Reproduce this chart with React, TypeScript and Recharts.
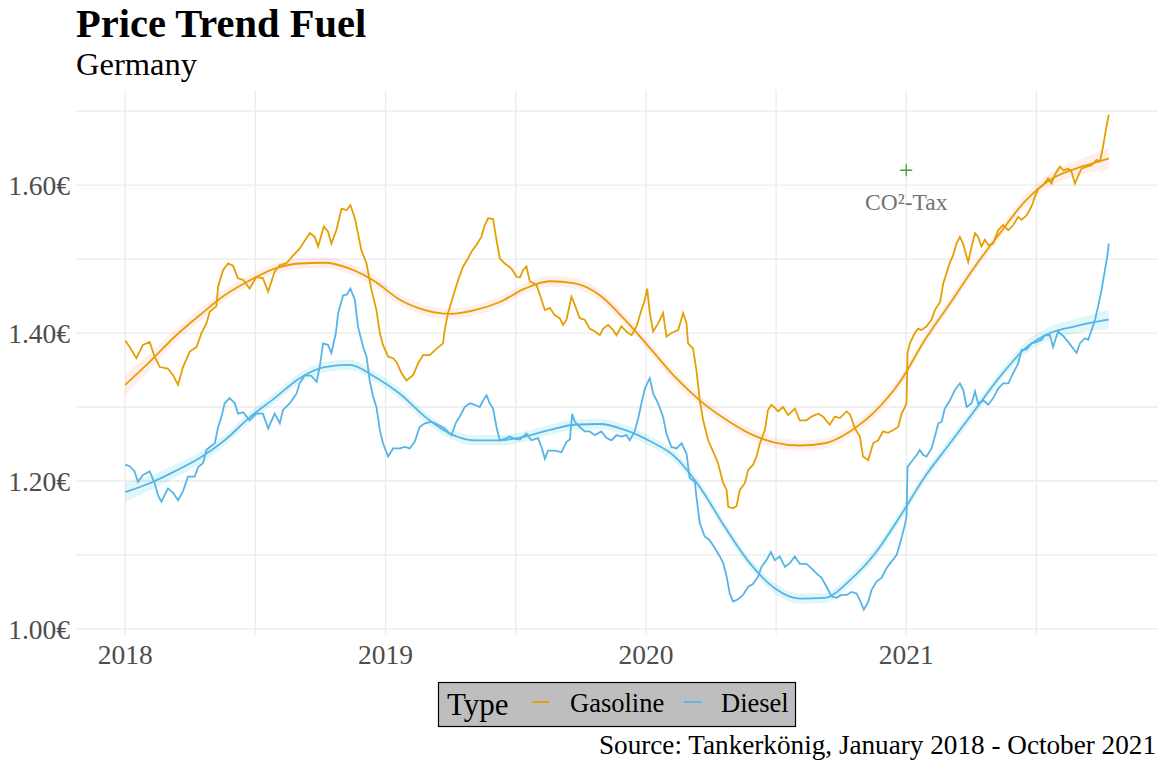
import { ComposedChart, Line, Area, XAxis, YAxis, CartesianGrid, ReferenceDot } from "recharts";

const W = 1166;
const H = 767;
const FONT = '"Liberation Serif", "Times New Roman", serif';
const GAS = "#E69F00";
const DSL = "#56B4E9";

const yearTicks = [2018, 2018.5, 2019, 2019.5, 2020, 2020.5, 2021, 2021.5];
const priceTicks = [1.0, 1.1, 1.2, 1.3, 1.4, 1.5, 1.6, 1.7];

// [decimal year, price in €]
const gasolineDaily: [number, number][] = [
  [2018.000,1.390],[2018.017,1.381],[2018.043,1.366],[2018.068,1.384],[2018.094,1.388],[2018.113,1.368],[2018.133,1.354],[2018.164,1.352],[2018.184,1.343],[2018.203,1.330],[2018.222,1.354],[2018.248,1.375],[2018.274,1.381],[2018.293,1.400],[2018.312,1.413],[2018.325,1.429],[2018.350,1.436],[2018.357,1.463],[2018.376,1.485],[2018.395,1.494],[2018.414,1.491],[2018.433,1.474],[2018.453,1.472],[2018.478,1.460],[2018.504,1.476],[2018.529,1.474],[2018.549,1.456],[2018.574,1.483],[2018.594,1.492],[2018.619,1.494],[2018.645,1.505],[2018.670,1.514],[2018.690,1.525],[2018.709,1.535],[2018.728,1.530],[2018.741,1.517],[2018.763,1.544],[2018.779,1.537],[2018.792,1.521],[2018.811,1.539],[2018.831,1.568],[2018.850,1.566],[2018.865,1.573],[2018.882,1.555],[2018.894,1.535],[2018.907,1.512],[2018.927,1.494],[2018.946,1.458],[2018.965,1.431],[2018.978,1.400],[2018.990,1.384],[2019.010,1.368],[2019.029,1.366],[2019.042,1.361],[2019.061,1.346],[2019.080,1.336],[2019.106,1.343],[2019.125,1.359],[2019.144,1.370],[2019.170,1.370],[2019.196,1.379],[2019.221,1.386],[2019.227,1.404],[2019.240,1.427],[2019.259,1.449],[2019.279,1.472],[2019.298,1.490],[2019.317,1.501],[2019.330,1.510],[2019.349,1.519],[2019.368,1.530],[2019.381,1.546],[2019.394,1.555],[2019.413,1.554],[2019.426,1.526],[2019.439,1.501],[2019.458,1.494],[2019.484,1.487],[2019.503,1.476],[2019.516,1.475],[2019.528,1.485],[2019.541,1.490],[2019.554,1.470],[2019.580,1.465],[2019.599,1.445],[2019.612,1.431],[2019.631,1.434],[2019.650,1.424],[2019.669,1.420],[2019.682,1.411],[2019.695,1.418],[2019.714,1.449],[2019.727,1.438],[2019.746,1.420],[2019.765,1.418],[2019.784,1.406],[2019.804,1.402],[2019.823,1.397],[2019.836,1.406],[2019.855,1.411],[2019.874,1.404],[2019.887,1.397],[2019.906,1.409],[2019.925,1.402],[2019.945,1.397],[2019.964,1.409],[2019.983,1.431],[2019.996,1.445],[2020.005,1.460],[2020.015,1.427],[2020.028,1.402],[2020.047,1.413],[2020.066,1.427],[2020.079,1.395],[2020.098,1.400],[2020.124,1.404],[2020.143,1.427],[2020.156,1.413],[2020.162,1.386],[2020.181,1.379],[2020.194,1.350],[2020.207,1.309],[2020.220,1.282],[2020.239,1.255],[2020.258,1.240],[2020.277,1.224],[2020.297,1.197],[2020.310,1.188],[2020.316,1.165],[2020.335,1.163],[2020.348,1.166],[2020.361,1.188],[2020.380,1.197],[2020.393,1.215],[2020.412,1.222],[2020.425,1.233],[2020.438,1.251],[2020.457,1.269],[2020.469,1.296],[2020.482,1.303],[2020.495,1.299],[2020.508,1.294],[2020.527,1.300],[2020.546,1.289],[2020.572,1.298],[2020.591,1.282],[2020.617,1.282],[2020.636,1.287],[2020.662,1.291],[2020.681,1.287],[2020.706,1.276],[2020.726,1.287],[2020.745,1.285],[2020.771,1.294],[2020.784,1.290],[2020.803,1.271],[2020.822,1.260],[2020.834,1.233],[2020.854,1.228],[2020.873,1.251],[2020.892,1.255],[2020.911,1.267],[2020.930,1.265],[2020.950,1.269],[2020.969,1.273],[2020.982,1.291],[2020.995,1.300],[2021.001,1.305],[2021.005,1.373],[2021.014,1.386],[2021.033,1.400],[2021.046,1.406],[2021.059,1.404],[2021.078,1.409],[2021.097,1.418],[2021.110,1.431],[2021.130,1.442],[2021.142,1.467],[2021.155,1.481],[2021.168,1.496],[2021.180,1.505],[2021.193,1.521],[2021.206,1.530],[2021.219,1.520],[2021.232,1.503],[2021.238,1.496],[2021.251,1.517],[2021.264,1.535],[2021.276,1.530],[2021.289,1.517],[2021.302,1.526],[2021.315,1.519],[2021.334,1.521],[2021.353,1.539],[2021.372,1.546],[2021.392,1.539],[2021.411,1.546],[2021.430,1.557],[2021.443,1.553],[2021.462,1.559],[2021.481,1.571],[2021.494,1.584],[2021.507,1.595],[2021.526,1.600],[2021.545,1.609],[2021.558,1.602],[2021.571,1.614],[2021.590,1.625],[2021.603,1.620],[2021.622,1.622],[2021.635,1.618],[2021.648,1.602],[2021.660,1.612],[2021.673,1.622],[2021.693,1.625],[2021.712,1.627],[2021.731,1.634],[2021.744,1.632],[2021.756,1.652],[2021.769,1.679],[2021.778,1.695],
];

const dieselDaily: [number, number][] = [
  [2018.000,1.222],[2018.017,1.220],[2018.036,1.213],[2018.049,1.199],[2018.068,1.208],[2018.094,1.213],[2018.113,1.197],[2018.126,1.181],[2018.139,1.172],[2018.164,1.190],[2018.184,1.184],[2018.203,1.174],[2018.222,1.186],[2018.241,1.206],[2018.267,1.206],[2018.280,1.219],[2018.299,1.224],[2018.312,1.242],[2018.325,1.246],[2018.344,1.251],[2018.357,1.273],[2018.370,1.287],[2018.382,1.305],[2018.401,1.312],[2018.421,1.305],[2018.433,1.291],[2018.453,1.293],[2018.478,1.282],[2018.504,1.291],[2018.529,1.291],[2018.549,1.271],[2018.574,1.291],[2018.594,1.278],[2018.606,1.296],[2018.632,1.305],[2018.658,1.318],[2018.670,1.332],[2018.690,1.343],[2018.715,1.342],[2018.735,1.334],[2018.747,1.354],[2018.760,1.386],[2018.779,1.384],[2018.792,1.373],[2018.809,1.400],[2018.818,1.427],[2018.837,1.451],[2018.852,1.452],[2018.865,1.460],[2018.882,1.445],[2018.894,1.409],[2018.914,1.381],[2018.927,1.368],[2018.939,1.336],[2018.952,1.314],[2018.965,1.300],[2018.978,1.269],[2018.990,1.251],[2019.010,1.233],[2019.029,1.244],[2019.055,1.244],[2019.074,1.246],[2019.093,1.244],[2019.112,1.253],[2019.131,1.273],[2019.151,1.278],[2019.176,1.280],[2019.202,1.276],[2019.227,1.271],[2019.253,1.262],[2019.272,1.280],[2019.285,1.287],[2019.304,1.300],[2019.324,1.305],[2019.343,1.303],[2019.362,1.300],[2019.375,1.309],[2019.388,1.316],[2019.400,1.305],[2019.413,1.298],[2019.426,1.273],[2019.439,1.255],[2019.458,1.257],[2019.477,1.260],[2019.497,1.257],[2019.516,1.256],[2019.541,1.264],[2019.560,1.255],[2019.586,1.258],[2019.599,1.246],[2019.612,1.230],[2019.624,1.241],[2019.650,1.241],[2019.676,1.239],[2019.695,1.253],[2019.708,1.256],[2019.717,1.291],[2019.727,1.280],[2019.746,1.273],[2019.765,1.267],[2019.784,1.267],[2019.804,1.262],[2019.829,1.267],[2019.849,1.258],[2019.868,1.255],[2019.887,1.262],[2019.906,1.260],[2019.925,1.262],[2019.938,1.255],[2019.957,1.267],[2019.970,1.284],[2019.983,1.305],[2019.996,1.325],[2020.015,1.339],[2020.028,1.318],[2020.047,1.305],[2020.066,1.287],[2020.079,1.264],[2020.098,1.246],[2020.118,1.244],[2020.137,1.251],[2020.156,1.237],[2020.168,1.204],[2020.188,1.199],[2020.194,1.179],[2020.207,1.143],[2020.226,1.125],[2020.245,1.120],[2020.265,1.109],[2020.284,1.098],[2020.297,1.089],[2020.310,1.071],[2020.322,1.048],[2020.335,1.037],[2020.354,1.040],[2020.373,1.046],[2020.393,1.057],[2020.412,1.061],[2020.431,1.071],[2020.444,1.084],[2020.463,1.093],[2020.480,1.104],[2020.495,1.093],[2020.514,1.098],[2020.534,1.084],[2020.553,1.089],[2020.572,1.098],[2020.591,1.088],[2020.617,1.088],[2020.636,1.082],[2020.655,1.075],[2020.675,1.069],[2020.694,1.057],[2020.713,1.044],[2020.732,1.042],[2020.751,1.046],[2020.771,1.046],[2020.790,1.050],[2020.809,1.048],[2020.822,1.039],[2020.837,1.026],[2020.854,1.037],[2020.867,1.053],[2020.886,1.064],[2020.905,1.069],[2020.924,1.082],[2020.943,1.091],[2020.963,1.100],[2020.982,1.123],[2020.995,1.141],[2021.001,1.152],[2021.005,1.219],[2021.020,1.226],[2021.040,1.235],[2021.052,1.242],[2021.065,1.235],[2021.078,1.233],[2021.097,1.244],[2021.110,1.260],[2021.123,1.278],[2021.136,1.280],[2021.148,1.298],[2021.168,1.309],[2021.187,1.323],[2021.206,1.332],[2021.219,1.323],[2021.232,1.300],[2021.251,1.305],[2021.264,1.321],[2021.276,1.305],[2021.296,1.309],[2021.315,1.303],[2021.334,1.312],[2021.353,1.325],[2021.372,1.332],[2021.392,1.332],[2021.411,1.346],[2021.430,1.359],[2021.443,1.377],[2021.462,1.378],[2021.481,1.386],[2021.501,1.388],[2021.520,1.391],[2021.532,1.397],[2021.552,1.397],[2021.564,1.381],[2021.583,1.402],[2021.603,1.396],[2021.622,1.388],[2021.641,1.379],[2021.654,1.373],[2021.667,1.386],[2021.686,1.393],[2021.699,1.391],[2021.712,1.404],[2021.725,1.418],[2021.737,1.436],[2021.750,1.458],[2021.763,1.485],[2021.772,1.503],[2021.778,1.521],
];

// loess trend (geom_smooth)
const trendYears = [
  2018.000, 2018.094, 2018.190, 2018.286, 2018.382, 2018.478, 2018.574, 2018.670, 2018.766, 2018.862,
  2018.958, 2019.055, 2019.151, 2019.247, 2019.343, 2019.439, 2019.535, 2019.631, 2019.727, 2019.823,
  2019.919, 2020.015, 2020.111, 2020.207, 2020.303, 2020.399, 2020.495, 2020.591, 2020.687, 2020.784,
  2020.880, 2020.976, 2021.072, 2021.168, 2021.264, 2021.360, 2021.456, 2021.552, 2021.648, 2021.712, 2021.778,
];
const gasolineTrend = [
  1.330, 1.361, 1.395, 1.424, 1.451, 1.471, 1.487, 1.494, 1.495, 1.487,
  1.470, 1.445, 1.431, 1.426, 1.431, 1.442, 1.460, 1.470, 1.467, 1.451,
  1.418, 1.380, 1.341, 1.309, 1.284, 1.264, 1.252, 1.248, 1.251, 1.267,
  1.294, 1.334, 1.391, 1.440, 1.490, 1.535, 1.578, 1.607, 1.622, 1.629, 1.636,
];
const dieselTrend = [
  1.185, 1.197, 1.213, 1.231, 1.255, 1.286, 1.312, 1.339, 1.354, 1.357,
  1.341, 1.318, 1.287, 1.264, 1.255, 1.255, 1.260, 1.269, 1.276, 1.277,
  1.269, 1.254, 1.233, 1.192, 1.138, 1.089, 1.055, 1.041, 1.042, 1.066,
  1.102, 1.152, 1.206, 1.251, 1.296, 1.341, 1.379, 1.400, 1.409, 1.414, 1.418,
];
const gasolineSe = [
  0.014, 0.011, 0.009, 0.008, 0.007, 0.007, 0.007, 0.007, 0.007, 0.007,
  0.007, 0.007, 0.007, 0.007, 0.007, 0.007, 0.007, 0.007, 0.007, 0.007,
  0.007, 0.007, 0.007, 0.007, 0.007, 0.007, 0.007, 0.007, 0.007, 0.007,
  0.007, 0.007, 0.007, 0.007, 0.007, 0.007, 0.008, 0.009, 0.010, 0.012, 0.015,
];
const dieselSe = [
  0.013, 0.010, 0.009, 0.008, 0.007, 0.007, 0.007, 0.007, 0.007, 0.007,
  0.007, 0.007, 0.007, 0.007, 0.007, 0.007, 0.007, 0.007, 0.007, 0.007,
  0.007, 0.007, 0.007, 0.007, 0.007, 0.007, 0.007, 0.007, 0.007, 0.007,
  0.007, 0.007, 0.007, 0.007, 0.007, 0.007, 0.008, 0.009, 0.010, 0.011, 0.013,
];

const co2Marker = { t: 2021.0, v: 1.62 };
const co2Label = { t: 2021.0, v: 1.577, text: "CO²-Tax" };

const gasRows = gasolineDaily.map(([t, v]) => ({ t, v }));
const dslRows = dieselDaily.map(([t, v]) => ({ t, v }));
const gasTrendRows = trendYears.map((t, i) => ({
  t,
  v: gasolineTrend[i],
  band: [gasolineTrend[i] - gasolineSe[i], gasolineTrend[i] + gasolineSe[i]],
}));
const dslTrendRows = trendYears.map((t, i) => ({
  t,
  v: dieselTrend[i],
  band: [dieselTrend[i] - dieselSe[i], dieselTrend[i] + dieselSe[i]],
}));

const tickStyle = { fontSize: 27.5, fill: "#4d4d4d", fontFamily: FONT };

export default function App() {
  return (
    <div style={{ position: "absolute", left: 0, top: 0, width: W, height: H, background: "#fff" }}>
      <ComposedChart width={W} height={H} margin={{ top: 90, right: 8, bottom: 92.5, left: 0 }}>
        <CartesianGrid stroke="#ebebeb" strokeWidth={1.3} syncWithTicks />
        <XAxis
          type="number"
          dataKey="t"
          domain={[2017.811, 2021.967]}
          ticks={yearTicks}
          interval={0}
          allowDataOverflow
          tickFormatter={(v: number) => (Number.isInteger(v) ? String(v) : "")}
          axisLine={false}
          tickLine={false}
          tickSize={4}
          tickMargin={6}
          height={40}
          tick={tickStyle}
        />
        <YAxis
          type="number"
          dataKey="v"
          domain={[0.9925, 1.7285]}
          ticks={priceTicks}
          interval={0}
          allowDataOverflow
          tickFormatter={(v: number) => (Math.round(v * 10) % 2 === 0 ? v.toFixed(2) + "€" : "")}
          axisLine={false}
          tickLine={false}
          tickSize={4}
          tickMargin={2}
          width={76}
          tick={tickStyle}
        />
        <Line data={gasRows} dataKey="v" type="linear" stroke={GAS} strokeWidth={1.8} dot={false} isAnimationActive={false} />
        <Line data={dslRows} dataKey="v" type="linear" stroke={DSL} strokeWidth={1.8} dot={false} isAnimationActive={false} />
        <Area data={gasTrendRows} dataKey="band" type="monotone" stroke="none" fill="#F8766D" fillOpacity={0.12} isAnimationActive={false} />
        <Area data={dslTrendRows} dataKey="band" type="monotone" stroke="none" fill="#00BFC4" fillOpacity={0.12} isAnimationActive={false} />
        <Line data={gasTrendRows} dataKey="v" type="monotone" stroke={GAS} strokeWidth={1.8} dot={false} isAnimationActive={false} />
        <Line data={dslTrendRows} dataKey="v" type="monotone" stroke={DSL} strokeWidth={1.8} dot={false} isAnimationActive={false} />
        <ReferenceDot
          x={co2Marker.t}
          y={co2Marker.v}
          shape={(p: any) => (
            <path
              d={`M${p.cx - 6},${p.cy}h12M${p.cx},${p.cy - 6}v12`}
              stroke="#4a9a3a"
              strokeWidth={1.3}
              fill="none"
            />
          )}
        />
        <ReferenceDot
          x={co2Label.t}
          y={co2Label.v}
          shape={(p: any) => (
            <text x={p.cx} y={p.cy} textAnchor="middle" dominantBaseline="central" fontFamily={FONT} fontSize={23.5} fill="#737373">
              {co2Label.text}
            </text>
          )}
        />
      </ComposedChart>

      <svg width={W} height={H} style={{ position: "absolute", left: 0, top: 0, pointerEvents: "none" }}>
        <text x={76} y={37} fontFamily={FONT} fontSize={40.5} fontWeight="bold" fill="#000">
          Price Trend Fuel
        </text>
        <text x={76} y={75} fontFamily={FONT} fontSize={32.5} fill="#000">
          Germany
        </text>

        <rect x={438.5} y={682.5} width={357} height={44} fill="#bebebe" stroke="#000" strokeWidth={1.2} />
        <text x={447} y={715} fontFamily={FONT} fontSize={31} fill="#000">
          Type
        </text>
        <line x1={532} x2={549} y1={702} y2={702} stroke={GAS} strokeWidth={1.8} />
        <text x={570} y={712} fontFamily={FONT} fontSize={26.5} fill="#000">
          Gasoline
        </text>
        <line x1={684} x2={702} y1={702} y2={702} stroke={DSL} strokeWidth={1.8} />
        <text x={721} y={712} fontFamily={FONT} fontSize={26.5} fill="#000">
          Diesel
        </text>

        <text x={1156} y={754} textAnchor="end" fontFamily={FONT} fontSize={27.2} fill="#000">
          Source: Tankerkönig, January 2018 - October 2021
        </text>
      </svg>
    </div>
  );
}
